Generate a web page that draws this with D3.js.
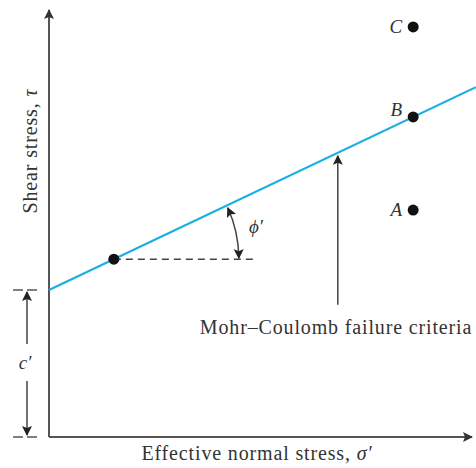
<!DOCTYPE html>
<html lang="en">
<head>
<meta charset="UTF-8">
<title>Mohr-Coulomb failure criteria</title>
<script src="https://d3js.org/d3.v7.min.js"></script>
<style>
    body { margin: 0; background: #fff; }
    text { font-family: "Liberation Serif", "DejaVu Serif", serif; fill: #333; }
    .axis-line { stroke: #555; stroke-width: 2; }
    .guide { stroke: #444; stroke-width: 1.5; }
    .title { font-size: 20px; letter-spacing: 0.85px; }
</style>
</head>
<body>
<div id="chart"></div>
<script>
// chart values, in plot units (0-100 on both axes)
var cohesion = 34.6;          // c'
var tanPhi = 0.4705;          // slope of the failure envelope
var envelopeX = [0, 101.4];
var stressPoints = [
    {label: "C", x: 86.5, y: 96.5},
    {label: "B", x: 86.5, y: 75.3},
    {label: "A", x: 86.5, y: 53.4}
];
var anglePointX = 15.4;       // point where the phi' angle is measured
var dashEndX = 49.2;
var calloutX = 68.6, calloutBottom = 31.1;

var width = 476, height = 468;

var svg = d3.select("#chart")
    .append("svg")
    .attr("width", width)
    .attr("height", height);

var x = d3.scaleLinear().domain([0, 100]).range([49, 470]);
var y = d3.scaleLinear().domain([0, 100]).range([437, 12]);

var envelope = function(v) { return cohesion + tanPhi * v; };

var defs = svg.append("defs");
function marker(id, color) {
    defs.append("marker")
        .attr("id", id)
        .attr("viewBox", "0 0 10 10")
        .attr("refX", 9).attr("refY", 5)
        .attr("markerWidth", 10).attr("markerHeight", 10)
        .attr("markerUnits", "userSpaceOnUse")
        .attr("orient", "auto-start-reverse")
        .append("path")
        .attr("d", "M0,0 L10,5 L0,10 L2,5 Z")
        .attr("fill", color);
}
marker("arr", "#222");
marker("axarr", "#333");

// axes
svg.append("line").attr("class", "axis-line")
    .attr("x1", x(0)).attr("y1", y(0))
    .attr("x2", x(0)).attr("y2", y(0) - 427)
    .attr("marker-end", "url(#axarr)");
svg.append("line").attr("class", "axis-line")
    .attr("x1", x(0)).attr("y1", y(0))
    .attr("x2", x(100) + 2).attr("y2", y(0))
    .attr("marker-end", "url(#axarr)");

// failure envelope
svg.append("line")
    .attr("x1", x(envelopeX[0])).attr("y1", y(envelope(envelopeX[0])))
    .attr("x2", x(envelopeX[1])).attr("y2", y(envelope(envelopeX[1])))
    .attr("stroke", "#1aaee6")
    .attr("stroke-width", 2.2);

// horizontal dashed reference
svg.append("line")
    .attr("x1", x(anglePointX)).attr("y1", y(envelope(anglePointX)))
    .attr("x2", x(dashEndX)).attr("y2", y(envelope(anglePointX)))
    .attr("stroke", "#444").attr("stroke-width", 1.5)
    .attr("stroke-dasharray", "7,5");

// phi' arc
var cx = x(anglePointX), cy = y(envelope(anglePointX));
var ang = Math.atan((y(envelope(0)) - y(envelope(100))) / (x(100) - x(0)));
var r = 125;
var ex = cx + r, ey = cy;
svg.append("path")
    .attr("d", "M" + (cx + r * Math.cos(ang - 0.02)) + "," + (cy - r * Math.sin(ang - 0.02)) +
        " A" + r + "," + r + " 0 0 1 " + (ex) + "," + (ey - 1))
    .attr("fill", "none")
    .attr("class", "guide")
    .attr("marker-start", "url(#arr)")
    .attr("marker-end", "url(#arr)");
svg.append("text")
    .attr("x", 256).attr("y", 233)
    .attr("font-size", 19).attr("font-style", "italic")
    .attr("text-anchor", "middle")
    .text("\u03D5\u2032");

// points
svg.append("circle")
    .attr("cx", cx).attr("cy", cy).attr("r", 5.5).attr("fill", "#111");

svg.selectAll(".pt")
    .data(stressPoints)
    .enter()
    .append("circle")
    .attr("cx", function(d) { return x(d.x); })
    .attr("cy", function(d) { return y(d.y); })
    .attr("r", 5.5)
    .attr("fill", "#111");

svg.selectAll(".pt-label")
    .data(stressPoints)
    .enter()
    .append("text")
    .attr("x", function(d) { return x(d.x) - 11; })
    .attr("y", function(d) { return y(d.y) + (d.label == "B" ? -1 : 6); })
    .attr("text-anchor", "end")
    .attr("font-size", 19).attr("font-style", "italic")
    .text(function(d) { return d.label; });

// callout arrow
svg.append("line")
    .attr("class", "guide")
    .attr("x1", x(calloutX)).attr("y1", y(calloutBottom))
    .attr("x2", x(calloutX)).attr("y2", y(envelope(calloutX)) + 3)
    .attr("marker-end", "url(#arr)");
svg.append("text")
    .attr("class", "title")
    .attr("x", 336).attr("y", 334)
    .attr("text-anchor", "middle")
    .text("Mohr\u2013Coulomb failure criteria");

// c' dimension
var dimX = 27;
[0, cohesion].forEach(function(v) {
    svg.append("line")
        .attr("x1", 13).attr("x2", 41)
        .attr("y1", y(v)).attr("y2", y(v))
        .attr("stroke", "#555").attr("stroke-width", 1.5)
        .attr("stroke-dasharray", "10,4");
});
svg.append("line").attr("class", "guide")
    .attr("x1", dimX).attr("x2", dimX)
    .attr("y1", 344).attr("y2", y(cohesion) + 2)
    .attr("marker-end", "url(#arr)");
svg.append("line").attr("class", "guide")
    .attr("x1", dimX).attr("x2", dimX)
    .attr("y1", 381).attr("y2", y(0) - 2)
    .attr("marker-end", "url(#arr)");
svg.append("text")
    .attr("x", dimX - 2).attr("y", 369)
    .attr("text-anchor", "middle")
    .attr("font-size", 19).attr("font-style", "italic")
    .text("c\u2032");

// axis titles
svg.append("text")
    .attr("class", "title")
    .attr("transform", "translate(37,151) rotate(-90)")
    .attr("text-anchor", "middle")
    .html("Shear stress, <tspan font-style='italic'>\u03C4</tspan>");
svg.append("text")
    .attr("class", "title")
    .attr("x", 257).attr("y", 460)
    .attr("text-anchor", "middle")
    .html("Effective normal stress, <tspan font-style='italic'>\u03C3\u2032</tspan>");
</script>
</body>
</html>
